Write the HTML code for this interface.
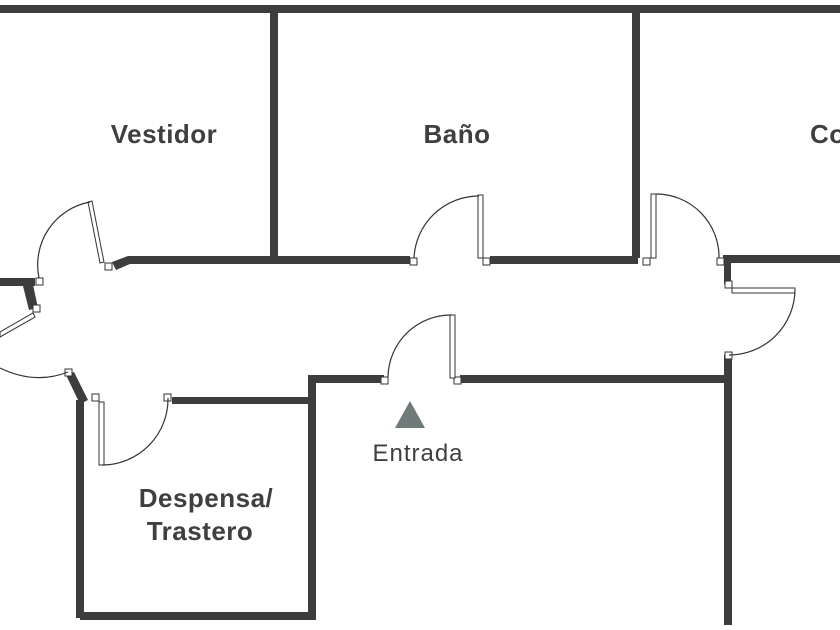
<!DOCTYPE html>
<html><head><meta charset="utf-8"><style>
html,body{margin:0;padding:0;background:#fff;width:840px;height:630px;overflow:hidden}
text{font-family:"Liberation Sans",sans-serif;fill:#3f3f3f}
</style></head><body>
<svg width="840" height="630" viewBox="0 0 840 630" xmlns="http://www.w3.org/2000/svg">
<g fill="#3d3d3d">
<rect x="0" y="5" width="840" height="8"/>
<rect x="270" y="10" width="8" height="248"/>
<rect x="632" y="10" width="8" height="248"/>
<rect x="128" y="256" width="282" height="8"/>
<polygon points="112,262 128,256 130,264 116,270"/>
<rect x="490" y="256" width="148" height="8"/>
<rect x="723" y="255" width="117" height="8"/>
<rect x="724" y="260" width="7" height="24"/>
<rect x="724" y="355" width="8" height="270"/>
<rect x="460" y="375" width="268" height="8"/>
<rect x="308" y="375" width="76" height="8"/>
<rect x="308" y="375" width="8" height="245"/>
<rect x="80" y="612" width="236" height="8"/>
<rect x="172" y="397" width="140" height="7"/>
<rect x="76" y="400" width="8" height="218"/>
<polygon points="66,375 74,372 88,400 80,404"/>
<rect x="0" y="278" width="35" height="8"/>
<polygon points="22,282 32,280 38,308 29,310"/>
</g>
<g fill="#fff" stroke="#333" stroke-width="1">
<rect x="410" y="258" width="7" height="7"/><rect x="483" y="258" width="7" height="7"/>
<rect x="643" y="258" width="7" height="7"/><rect x="717" y="258" width="7" height="7"/>
<rect x="725" y="281" width="7" height="7"/><rect x="725" y="352" width="7" height="7"/>
<rect x="381" y="377" width="7" height="7"/><rect x="454" y="377" width="7" height="7"/>
<rect x="92" y="394" width="7" height="7"/><rect x="164" y="394" width="7" height="7"/>
<rect x="105" y="263" width="7" height="7"/><rect x="36" y="278" width="7" height="7"/>
<rect x="33" y="305" width="7" height="7"/><rect x="65" y="369" width="7" height="7"/>
<rect x="478" y="195" width="5" height="63"/>
<rect x="450" y="315" width="5" height="63"/>
<rect x="651" y="194" width="5" height="64"/>
<rect x="732" y="288" width="63" height="5"/>
<rect x="99" y="402" width="5" height="63"/>
<polygon points="88,202 92,201 104,262 100,263"/>
<polygon points="0,332 33,313 35,317 0,337"/>
</g>
<g fill="none" stroke="#333" stroke-width="1.2">
<path d="M414,258 A65,65 0 0 1 479,196"/>
<path d="M388,377 A63,63 0 0 1 452,315"/>
<path d="M656,194 A63,63 0 0 1 719,258"/>
<path d="M795,290 A66,66 0 0 1 729,355"/>
<path d="M102,465 A66,66 0 0 0 168,398"/>
<path d="M90,202 A64,64 0 0 0 39,278"/>
<path d="M0,368 Q35,385 68,372"/>
</g>
<polygon points="410,401 395,428 425,428" fill="#6e7b79"/>
<g font-weight="bold" font-size="26" text-anchor="middle" letter-spacing="0.5">
<text x="164" y="143">Vestidor</text>
<text x="457" y="143">Baño</text>
<text x="810" y="143" text-anchor="start">Co</text>
<text x="206" y="507">Despensa/</text>
<text x="200" y="540">Trastero</text>
</g>
<text x="418" y="461" font-size="24" text-anchor="middle" letter-spacing="1">Entrada</text>
</svg>
</body></html>
